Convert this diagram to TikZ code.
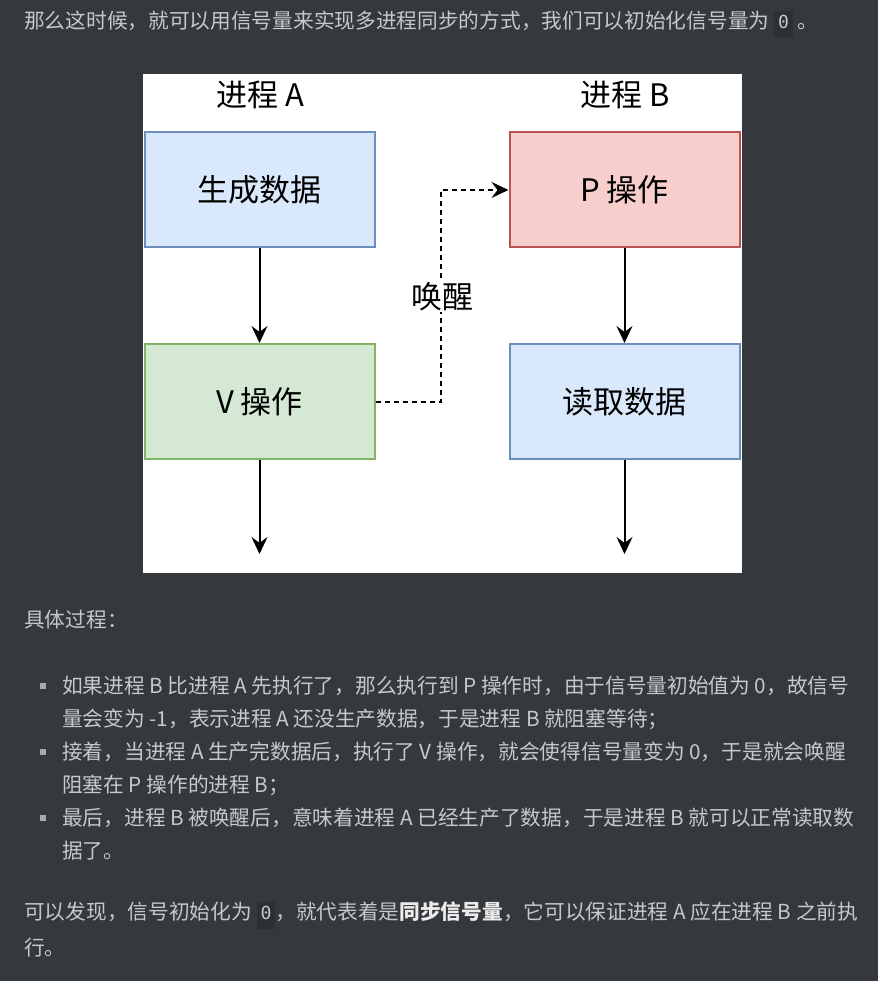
\documentclass[tikz,border=0pt]{standalone}
\usepackage{fontspec}
\setmainfont{Noto Sans CJK SC}
\newfontfamily\codefont{DejaVu Sans Mono}
\usetikzlibrary{arrows.meta}
\definecolor{pagebg}{HTML}{35383C}
\definecolor{bodytxt}{HTML}{C6C8CA}
\definecolor{strongtxt}{HTML}{ECECEC}
\definecolor{codebg}{HTML}{2C2F33}
\definecolor{bulletc}{HTML}{A8AAAC}
\definecolor{bluefill}{HTML}{DAE8FC}
\definecolor{blueline}{HTML}{6C8EBF}
\definecolor{redfill}{HTML}{F8CECC}
\definecolor{redline}{HTML}{B85450}
\definecolor{greenfill}{HTML}{D5E8D4}
\definecolor{greenline}{HTML}{82B366}
\newcommand\inlinecode[1]{{\setlength\fboxsep{4pt}\colorbox{codebg}{\codefont\fontsize{18}{18}\selectfont\color{bodytxt}\strut#1}}}
\newcommand\strongword[1]{{\color{strongtxt}\bfseries #1}}
\begin{document}
\begin{tikzpicture}[x=1pt,y=-1pt,
  bodyline/.style={anchor=west,inner sep=0pt,text=bodytxt,font=\fontsize{20.7}{20.7}\selectfont},
  procbox/.style={draw,line width=2pt,minimum width=230pt,minimum height=115pt,inner sep=0pt,font=\fontsize{31}{31}\selectfont},
  headlabel/.style={inner sep=0pt,font=\fontsize{31}{31}\selectfont},
  arr/.style={line width=2pt,-{Stealth[length=17pt,width=16pt,inset=6pt]}},
  bulletsq/.style={fill=bulletc,minimum size=6pt,inner sep=0pt}]
\useasboundingbox (0,0) rectangle (878,981);
\fill[pagebg] (0,0) rectangle (878,981);
% top text
\node[bodyline] (t1) at (24,24) {那么这时候，就可以用信号量来实现多进程同步的方式，我们可以初始化信号量为 \inlinecode{0} 。};
% diagram
\fill[white] (143,74) rectangle (742,573);
\node[headlabel] (ha) at (260,95) {进程 A};
\node[headlabel] (hb) at (625,95) {进程 B};
\node[procbox,fill=bluefill,draw=blueline] (a1) at (259.5,190) {生成数据};
\node[procbox,fill=redfill,draw=redline] (b1) at (624.5,190) {P 操作};
\node[procbox,fill=greenfill,draw=greenline] (a2) at (259.5,401.5) {V 操作};
\node[procbox,fill=bluefill,draw=blueline] (b2) at (624.5,401.5) {读取数据};
\coordinate (enda) at (259.5,554);
\coordinate (endb) at (624.5,554);
\coordinate (bend) at (441,401.5);
\draw[arr] (a1) -- (a2);
\draw[arr] (b1) -- (b2);
\draw[arr] (a2) -- (enda);
\draw[arr] (b2) -- (endb);
\draw[arr,dash pattern=on 5pt off 4pt] (a2.east) -- (bend) |- (b1.west);
\node[fill=white,inner sep=1pt,font=\fontsize{31}{31}\selectfont] (wake) at (442,297) {唤醒};
% lower text
\node[bodyline] (t2) at (24,620) {具体过程：};
\node[bulletsq] (u1) at (43,686) {};
\node[bodyline] (l1) at (62,686) {如果进程 B 比进程 A 先执行了，那么执行到 P 操作时，由于信号量初始值为 0，故信号};
\node[bodyline] (l2) at (62,719) {量会变为 -1，表示进程 A 还没生产数据，于是进程 B 就阻塞等待；};
\node[bulletsq] (u2) at (43,752) {};
\node[bodyline] (l3) at (62,752) {接着，当进程 A 生产完数据后，执行了 V 操作，就会使得信号量变为 0，于是就会唤醒};
\node[bodyline] (l4) at (62,785) {阻塞在 P 操作的进程 B；};
\node[bulletsq] (u3) at (43,818) {};
\node[bodyline] (l5) at (62,818) {最后，进程 B 被唤醒后，意味着进程 A 已经生产了数据，于是进程 B 就可以正常读取数};
\node[bodyline] (l6) at (62,851) {据了。};
\node[bodyline] (p1) at (24,915) {可以发现，信号初始化为 \inlinecode{0}，就代表着是\strongword{同步信号量}，它可以保证进程 A 应在进程 B 之前执};
\node[bodyline] (p2) at (24,948) {行。};
\end{tikzpicture}
\end{document}
